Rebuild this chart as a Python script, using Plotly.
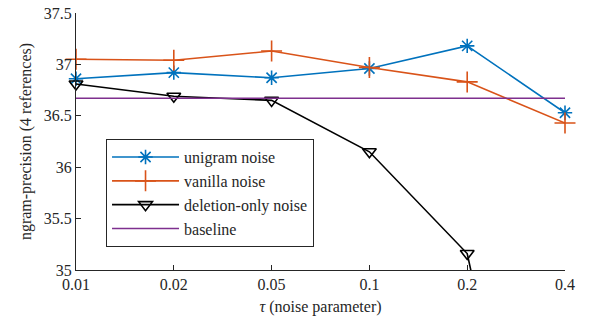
import plotly.graph_objects as go

tau_labels = ["0.01", "0.02", "0.05", "0.1", "0.2", "0.4"]
unigram = [36.86, 36.92, 36.87, 36.96, 37.18, 36.53]
vanilla = [37.05, 37.04, 37.13, 36.97, 36.83, 36.43]
deletion = [36.81, 36.69, 36.65, 36.15, 35.16, 30.8]
baseline = [36.67] * 6
y_ticks = [35, 35.5, 36, 36.5, 37, 37.5]
y_labels = ["35", "35.5", "36", "36.5", "37", "37.5"]

x = list(range(len(tau_labels)))
FONT = '"Liberation Serif", "Times New Roman", Times, serif'
TXT = "#262626"

fig = go.Figure()
fig.add_trace(go.Scatter(x=x, y=unigram, name="unigram noise", mode="lines+markers",
                         line=dict(color="#0072BD", width=1.6),
                         marker=dict(symbol="asterisk-open", size=12, line=dict(color="#0072BD", width=1.6)),
                         cliponaxis=False))
fig.add_trace(go.Scatter(x=x, y=vanilla, name="vanilla noise", mode="lines+markers",
                         line=dict(color="#D95319", width=1.6),
                         marker=dict(symbol="cross-thin-open", size=15, line=dict(color="#D95319", width=1.6)),
                         cliponaxis=False))
fig.add_trace(go.Scatter(x=x, y=deletion, name="deletion-only noise", mode="lines+markers",
                         line=dict(color="black", width=1.6),
                         marker=dict(symbol="triangle-down-open", size=12, line=dict(color="black", width=1.6)),
                         cliponaxis=False))
fig.add_trace(go.Scatter(x=x, y=baseline, name="baseline", mode="lines",
                         line=dict(color="#7E2F8E", width=1.6)))

fig.update_layout(
    width=590, height=323,
    margin=dict(l=76, r=25, t=13, b=53, autoexpand=False),
    plot_bgcolor="white", paper_bgcolor="white",
    font=dict(family=FONT, size=16, color=TXT),
    showlegend=True,
    legend=dict(x=0.061, y=0.51, xanchor="left", yanchor="top",
                bgcolor="white", bordercolor=TXT, borderwidth=1.2,
                font=dict(family=FONT, size=16, color=TXT),
                tracegroupgap=0, itemwidth=67),
)
fig.update_xaxes(range=[0, 5], tickvals=x, ticktext=tau_labels, automargin=False,
                 tickfont=dict(family=FONT, size=16, color=TXT),
                 showline=True, linecolor=TXT, linewidth=1.2,
                 ticks="inside", ticklen=5, tickcolor=TXT,
                 showgrid=False, zeroline=False,
                 title=dict(text="<i>τ</i> (noise parameter)", standoff=8,
                            font=dict(family=FONT, size=16, color=TXT)))
fig.update_yaxes(range=[35, 37.5], tickvals=y_ticks, ticktext=y_labels, automargin=False,
                 tickfont=dict(family=FONT, size=16, color=TXT),
                 showline=True, linecolor=TXT, linewidth=1.2,
                 ticks="inside", ticklen=5, tickcolor=TXT,
                 showgrid=False, zeroline=False,
                 title=dict(text="ngram-precision (4 references)", standoff=8,
                            font=dict(family=FONT, size=16, color=TXT)))

fig.write_html("out.html", config={"displayModeBar": False},
               post_script="document.body.style.margin='0px';")
